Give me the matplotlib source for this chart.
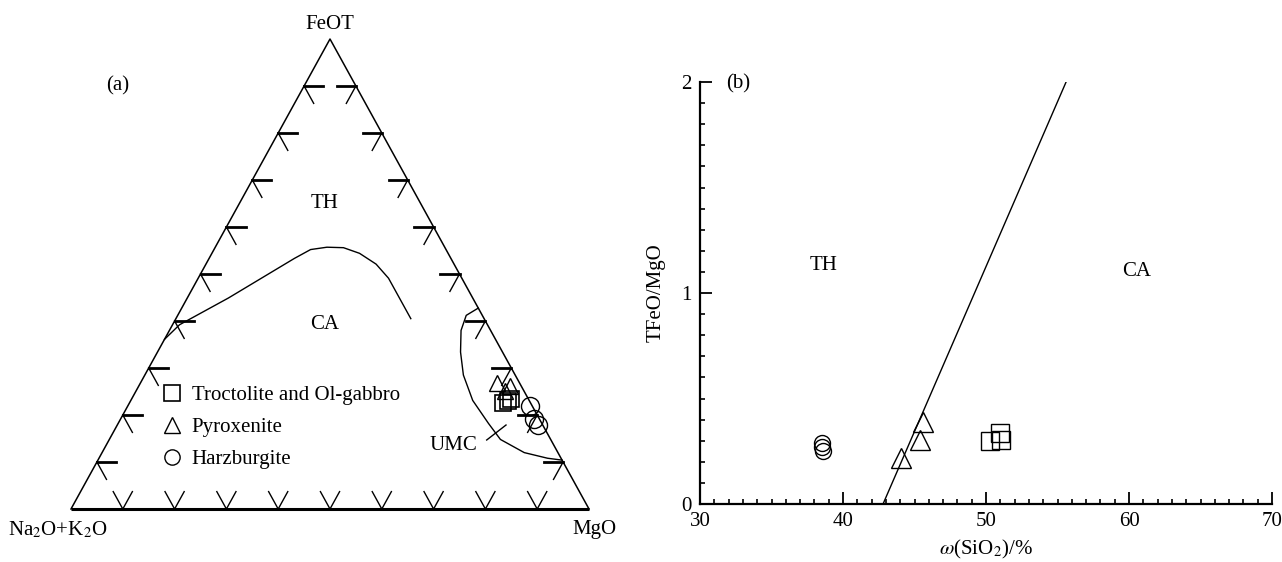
import numpy as np
import matplotlib
matplotlib.use("Agg")
from matplotlib import pyplot as plt
from matplotlib.ticker import MultipleLocator

plt.rcParams['font.family'] = ['Liberation Serif', 'DejaVu Serif']
plt.rcParams['mathtext.fontset'] = 'stix'
FS = 15

# ---- (a) AFM ternary: FeOT and MgO in %, alkalis = rest
th_ca_feo = [36.1, 39.2, 44.9, 53.3, 55.2, 55.7, 55.6, 54.4, 52.1, 49.1, 45.3, 40.5]
th_ca_mgo = [0.0, 1.35, 7.95, 16.45, 18.65, 21.55, 24.8, 28.5, 32.85, 36.75, 40.55, 45.35]

umc_feo = [42.75, 41.2, 38.0, 33.4, 28.5, 23.1, 18.2, 14.8, 12.0, 10.8, 10.4]
umc_mgo = [57.25, 55.7, 56.3, 58.5, 61.5, 66.0, 71.5, 75.5, 81.5, 86.6, 89.6]

tern_sq_feo = [22.6, 23.0, 23.4]
tern_sq_mgo = [72.1, 72.9, 73.2]
tern_tri_feo = [26.8, 26.2, 25.1]
tern_tri_mgo = [68.8, 71.7, 71.2]
tern_ci_feo = [21.9, 19.2, 17.9]
tern_ci_mgo = [77.6, 79.8, 81.2]

# ---- (b) TFeO/MgO vs SiO2
sq_sio2 = [50.25, 50.95, 51.05]
sq_ratio = [0.30, 0.337, 0.305]
tri_sio2 = [44.05, 45.35, 45.6]
tri_ratio = [0.218, 0.305, 0.387]
ci_sio2 = [38.55, 38.55, 38.6]
ci_ratio = [0.289, 0.272, 0.25]

line_sio2 = [42.8, 55.6]
line_ratio = [0.0, 2.0]

labels = ['Troctolite and Ol-gabbro', 'Pyroxenite', 'Harzburgite']


def tern(feo, mgo):
    f = np.asarray(feo) / 100.0
    m = np.asarray(mgo) / 100.0
    return m + f / 2, f


W, H = 1282, 562
fig = plt.figure(figsize=(W / 100, H / 100), dpi=100)

# ---------------- left: ternary
ax = fig.add_axes([71 / W, 53 / H, 518 / W, 470 / H])
ax.set_xlim(0, 1)
ax.set_ylim(0, 1)
ax.axis('off')

ax.plot([0, 0.5, 1], [0, 1, 0], color='k', lw=1.1, clip_on=False)
ax.plot([0, 1], [0, 0], color='k', lw=2.2, clip_on=False, solid_capstyle='butt')

L = 0.037
for i in range(1, 10):
    t = i / 10
    # left side
    x0, y0 = t / 2, t
    ax.plot([x0, x0 + L], [y0, y0], color='k', lw=2.0)
    ax.plot([x0, x0 + 0.5 * L], [y0, y0 - L], color='k', lw=1.0)
    # right side
    x0, y0 = 1 - t / 2, t
    ax.plot([x0, x0 - L], [y0, y0], color='k', lw=2.0)
    ax.plot([x0, x0 - 0.5 * L], [y0, y0 - L], color='k', lw=1.0)
    # base
    ax.plot([t - 0.5 * L, t, t + 0.5 * L], [L, 0, L], color='k', lw=1.0)

x, y = tern(th_ca_feo, th_ca_mgo)
ax.plot(x, y, color='k', lw=1.0)
x, y = tern(umc_feo, umc_mgo)
ax.plot(x, y, color='k', lw=1.0)
ax.plot([0.8025, 0.8398], [0.1468, 0.1787], color='k', lw=1.0)

x, y = tern(tern_tri_feo, tern_tri_mgo)
h2, = ax.plot(x, y, ls='none', marker='^', ms=12, mfc='none', mec='k', mew=1.0)
x, y = tern(tern_sq_feo, tern_sq_mgo)
h1, = ax.plot(x, y, ls='none', marker='s', ms=11.5, mfc='none', mec='k', mew=1.2)
x, y = tern(tern_ci_feo, tern_ci_mgo)
h3, = ax.plot(x, y, ls='none', marker='o', ms=13, mfc='none', mec='k', mew=1.0)

leg = ax.legend([h1, h2, h3], labels, loc='upper left', bbox_to_anchor=(0.175, 0.263),
                frameon=False, fontsize=FS, numpoints=1, handlelength=1.0,
                handletextpad=0.45, labelspacing=0.6, borderaxespad=0, borderpad=0)
for hl in leg.legend_handles:
    hl.set_markersize(11)

ax.text(0.5, 1.03, 'FeOT', ha='center', va='center', fontsize=FS)
ax.text(-0.025, -0.044, 'Na$_2$O+K$_2$O', ha='center', va='center', fontsize=FS)
ax.text(1.01, -0.044, 'MgO', ha='center', va='center', fontsize=FS)
ax.text(0.091, 0.90, '(a)', ha='center', va='center', fontsize=FS)
ax.text(0.49, 0.649, 'TH', ha='center', va='center', fontsize=FS)
ax.text(0.49, 0.392, 'CA', ha='center', va='center', fontsize=FS)
ax.text(0.7375, 0.136, 'UMC', ha='center', va='center', fontsize=FS)

# ---------------- right: TFeO/MgO vs SiO2
bx = fig.add_axes([700 / W, 58 / H, 572 / W, 422 / H])
bx.plot(line_sio2, line_ratio, color='k', lw=1.0)
bx.plot(sq_sio2, sq_ratio, ls='none', marker='s', ms=13.5, mfc='none', mec='k', mew=1.0)
bx.plot(tri_sio2, tri_ratio, ls='none', marker='^', ms=14.5, mfc='none', mec='k', mew=1.0)
bx.plot(ci_sio2, ci_ratio, ls='none', marker='o', ms=11.5, mfc='none', mec='k', mew=1.0)

bx.set_xlim(30, 70)
bx.set_ylim(0, 2)
bx.set_xticks([30, 40, 50, 60, 70])
bx.set_yticks([0, 1, 2])
bx.xaxis.set_minor_locator(MultipleLocator(1))
bx.yaxis.set_minor_locator(MultipleLocator(0.1))
bx.tick_params(which='major', direction='in', length=8.6, width=1.3, labelsize=FS, pad=6)
bx.tick_params(which='minor', direction='in', length=3.6, width=1.2)
bx.tick_params(top=False, right=False, which='both')
for s in ['top', 'right']:
    bx.spines[s].set_visible(False)
for s in ['left', 'bottom']:
    bx.spines[s].set_linewidth(1.6)

bx.set_ylabel('TFeO/MgO', fontsize=FS)
bx.set_xlabel(r'$\omega$(SiO$_2$)/%', fontsize=FS)
bx.yaxis.set_label_coords(-0.06, 0.5)
bx.xaxis.set_label_coords(0.5, -0.08)

bx.text(32.7, 1.99, '(b)', ha='center', va='center', fontsize=FS)
bx.text(38.65, 1.13, 'TH', ha='center', va='center', fontsize=FS)
bx.text(60.5, 1.10, 'CA', ha='center', va='center', fontsize=FS)

fig.savefig('out.png', dpi=100)
